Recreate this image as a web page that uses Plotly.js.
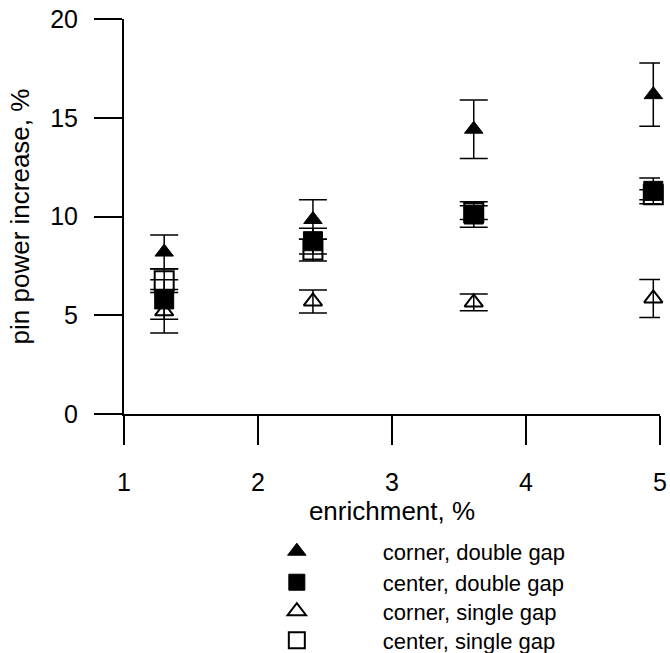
<!DOCTYPE html>
<html>
<head>
<meta charset="utf-8">
<script src="https://cdn.plot.ly/plotly-3.0.1.min.js"></script>
<style>html,body{margin:0;padding:0;background:#fff;}#chart{width:670px;height:653px;}</style>
</head>
<body>
<div id="chart"></div>
<script>
// enrichment values, %
const enrichment = [1.3, 2.41, 3.61, 4.95];

// pin power increase, % and uncertainties
const cornerDouble = [8.2, 9.85, 14.42, 16.17];
const cornerDoubleErr = [0.86, 1.0, 1.48, 1.6];

const centerDouble = [5.8, 8.75, 10.1, 11.3];
const centerDoubleErr = [1.0, 0.65, 0.65, 0.65];

const cornerSingle = [5.2, 5.7, 5.65, 5.85];
const cornerSingleErr = [1.1, 0.58, 0.42, 0.96];

const centerSingle = [6.75, 8.3, 10.2, 11.1];
const centerSingleErr = [0.6, 0.55, 0.35, 0.25];

const seriesNames = ["corner, double gap", "center, double gap", "corner, single gap", "center, single gap"];
const xTicks = [1, 2, 3, 4, 5];
const yTicks = [0, 5, 10, 15, 20];

const font = "Liberation Sans, Arial, sans-serif";

function errBar(arr) {
  return {type: "data", array: arr, visible: true, color: "#000", thickness: 1.5, width: 14};
}

const traces = [
  {
    name: seriesNames[3], legend: "legend4",
    x: enrichment, y: centerSingle, error_y: errBar(centerSingleErr),
    mode: "markers", type: "scatter", cliponaxis: false,
    marker: {symbol: "square-open", size: 19, color: "#000", line: {width: 2, color: "#000"}}
  },
  {
    name: seriesNames[2], legend: "legend3",
    x: enrichment, y: cornerSingle, error_y: errBar(cornerSingleErr),
    mode: "markers", type: "scatter", cliponaxis: false,
    marker: {symbol: "triangle-up-open", size: 16, color: "#000", line: {width: 2, color: "#000"}}
  },
  {
    name: seriesNames[0], legend: "legend",
    x: enrichment, y: cornerDouble, error_y: errBar(cornerDoubleErr),
    mode: "markers", type: "scatter", cliponaxis: false,
    marker: {symbol: "triangle-up", size: 16, color: "#000", line: {width: 1, color: "#000"}}
  },
  {
    name: seriesNames[1], legend: "legend2",
    x: enrichment, y: centerDouble, error_y: errBar(centerDoubleErr),
    mode: "markers", type: "scatter", cliponaxis: false,
    marker: {symbol: "square", size: 19, color: "#000", line: {width: 1, color: "#000"}}
  }
];

function legendAt(y) {
  return {
    x: 0.162, xanchor: "left", y: y, yanchor: "top",
    itemwidth: 162, font: {family: font, size: 22, color: "#000"},
    bgcolor: "rgba(0,0,0,0)", borderwidth: 0
  };
}

const layout = {
  width: 670, height: 653,
  margin: {l: 124, r: 10, t: 19, b: 239, autoexpand: false},
  paper_bgcolor: "#fff", plot_bgcolor: "#fff",
  font: {family: font, size: 22, color: "#000"},
  showlegend: true,
  legend: legendAt(-0.2947),
  legend2: legendAt(-0.3732),
  legend3: legendAt(-0.4466),
  legend4: legendAt(-0.5200),
  xaxis: {
    range: [1, 5], tickvals: xTicks, ticktext: xTicks.map(String),
    showline: true, linecolor: "#000", linewidth: 2,
    ticks: "outside", ticklen: 29, tickwidth: 2, tickcolor: "#000",
    showgrid: false, zeroline: false,
    tickfont: {family: font, size: 25, color: "#000"},
    ticklabelstandoff: 16,
    title: {text: "enrichment, %", font: {family: font, size: 26, color: "#000"}, standoff: 1},
    automargin: false
  },
  yaxis: {
    range: [0, 20], tickvals: yTicks, ticktext: yTicks.map(String),
    showline: true, linecolor: "#000", linewidth: 2,
    ticks: "outside", ticklen: 28, tickwidth: 2, tickcolor: "#000",
    showgrid: false, zeroline: false,
    tickfont: {family: font, size: 25, color: "#000"},
    ticklabelstandoff: 11,
    title: {text: "pin power increase, %", font: {family: font, size: 26, color: "#000"}, standoff: 13},
    automargin: false
  }
};

Plotly.newPlot("chart", traces, layout, {displayModeBar: false, staticPlot: true});
</script>
</body>
</html>
